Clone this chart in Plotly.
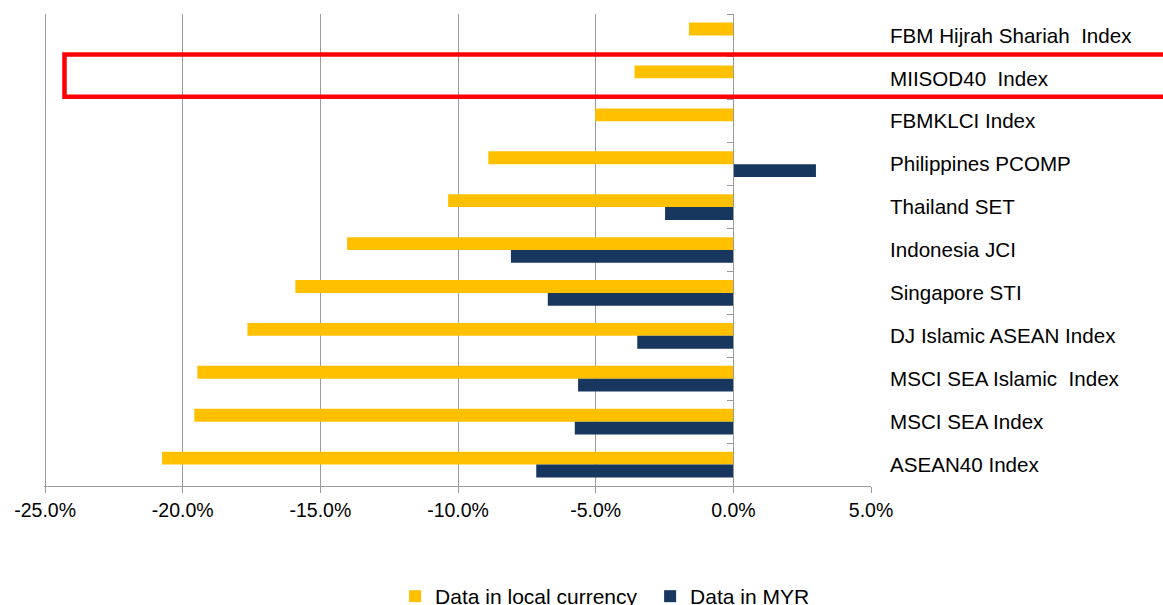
import plotly.graph_objects as go

categories = [
    "FBM Hijrah Shariah  Index",
    "MIISOD40  Index",
    "FBMKLCI Index",
    "Philippines PCOMP",
    "Thailand SET",
    "Indonesia JCI",
    "Singapore STI",
    "DJ Islamic ASEAN Index",
    "MSCI SEA Islamic  Index",
    "MSCI SEA Index",
    "ASEAN40 Index",
]
local_currency = [-1.61, -3.59, -5.02, -8.90, -10.36, -14.03, -15.91, -17.65, -19.47, -19.58, -20.75]
in_myr = [None, None, None, 3.00, -2.48, -8.08, -6.74, -3.49, -5.64, -5.76, -7.16]
x_ticks = [-25, -20, -15, -10, -5, 0, 5]
x_tick_labels = ["-25.0%", "-20.0%", "-15.0%", "-10.0%", "-5.0%", "0.0%", "5.0%"]

FONT = "Liberation Sans, Arial, sans-serif"
GRID = "#9a9a9a"

fig = go.Figure()
fig.add_trace(go.Bar(
    y=categories, x=local_currency, orientation="h", name="Data in local currency",
    marker=dict(color="#FFC000", line=dict(width=0)),
    width=0.3, offset=-0.3,
))
fig.add_trace(go.Bar(
    y=categories, x=in_myr, orientation="h", name="Data in MYR",
    marker=dict(color="#17375E", line=dict(width=0)),
    width=0.3, offset=0.0,
))
# invisible trace carrying the right-hand label axis
fig.add_trace(go.Scatter(
    y=categories, x=[0] * len(categories), yaxis="y2", mode="markers",
    marker=dict(opacity=0), showlegend=False, hoverinfo="skip",
))

fig.update_layout(
    width=1163, height=605,
    margin=dict(l=44, r=292, t=14, b=119),
    paper_bgcolor="white", plot_bgcolor="white",
    font=dict(family=FONT, size=19.5, color="black"),
    barmode="overlay",
    showlegend=True,
    legend=dict(
        orientation="h", xref="container", yref="container",
        x=0.559, y=0.014, xanchor="center", yanchor="middle",
        font=dict(size=21, family=FONT, color="black"),
        entrywidth=210, entrywidthmode="pixels",
        itemwidth=30, tracegroupgap=0,
    ),
    xaxis=dict(
        range=[-25.04, 5.0], tickvals=x_ticks, ticktext=x_tick_labels,
        showgrid=True, gridcolor=GRID, gridwidth=1.3,
        zeroline=False,
        showline=True, linecolor=GRID, linewidth=1.3,
        ticks="outside", ticklen=6, tickcolor=GRID, tickwidth=1.3,
        tickfont=dict(size=19.5, family=FONT, color="black"),
        fixedrange=True,
    ),
    yaxis=dict(
        type="category", autorange=False, range=[10.5, -0.5],
        anchor="free", position=25.04 / 30.04, side="left",
        showline=True, linecolor=GRID, linewidth=1.3,
        ticks="outside", tickson="boundaries", ticklen=6, tickcolor=GRID, tickwidth=1.3,
        showticklabels=False, showgrid=False, zeroline=False,
    ),
    yaxis2=dict(
        type="category", overlaying="y", matches="y", side="right", anchor="x",
        showline=False, ticks="", showgrid=False, zeroline=False,
        ticklabelstandoff=18,
        tickfont=dict(size=20.6, family=FONT, color="black"),
    ),
    shapes=[dict(
        type="rect", xref="paper", yref="paper",
        x0=(64.5 - 44) / 827, x1=(1172 - 44) / 827,
        y0=(486 - 96.8) / 472, y1=(486 - 54.5) / 472,
        line=dict(color="#FF0000", width=4.5),
        fillcolor="rgba(0,0,0,0)", layer="above",
    )],
)

fig.write_html(
    "out.html",
    config={"displayModeBar": False},
    post_script="document.body.style.margin='0';document.body.style.overflow='hidden';",
)
